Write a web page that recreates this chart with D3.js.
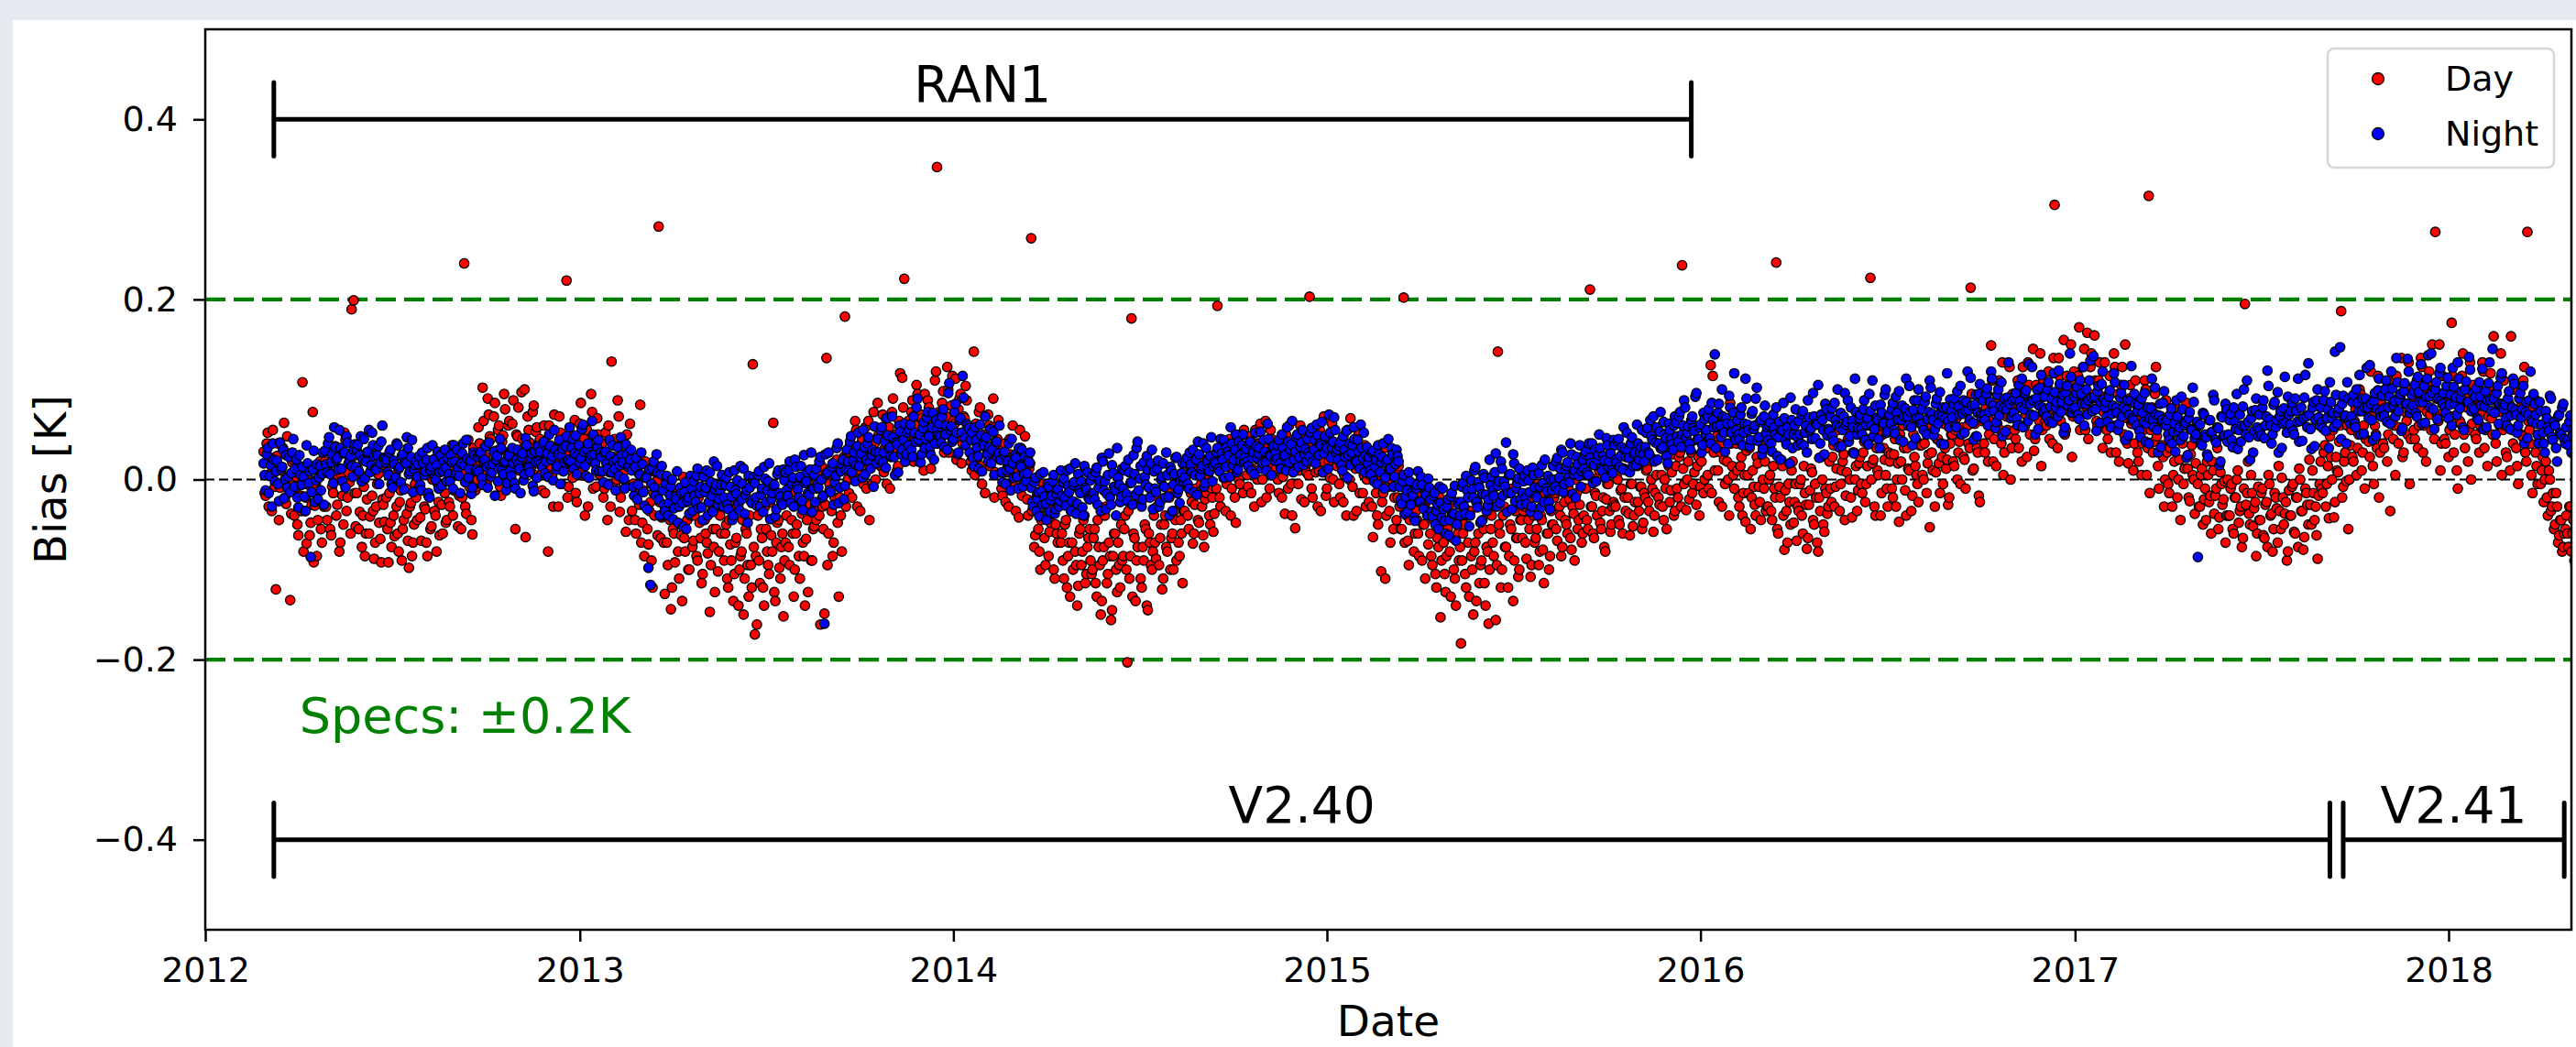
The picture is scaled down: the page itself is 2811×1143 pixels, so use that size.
<!DOCTYPE html>
<html>
<head>
<meta charset="utf-8">
<script src="https://cdn.jsdelivr.net/npm/d3@7"></script>
<style>
  body { margin: 0; background: #e5e9f0; }
  svg { display: block; font-family: "DejaVu Sans", sans-serif; }
</style>
</head>
<body>
<svg id="chart" width="2811" height="1143"></svg>
<script>
// ---- data: bias in mK, one value every 2 days ----
// "Even" arrays start 2012-02-27, "Odd" arrays start one day later
var startEven = "2012-02-27";
var startOdd = "2012-02-28";
var stepDays = 2;

var dayBiasEven = [
  31,-18,52,6,-35,24,-122,40,-9,14,63,-27,2,-134,19,
  -40,3,-62,-18,108,-35,-71,-6,-48,75,-29,-85,-12,-55,10,
  20,-45,8,-62,-15,37,-28,-80,5,-50,44,-20,-3,189,199,
  -52,12,-36,-75,-8,-60,25,-41,-18,-88,-30,6,-66,-22,-47,
  -20,-92,-48,3,-63,-30,-80,-12,-55,19,-38,-98,-26,-70,-5,
  -45,-10,-68,8,-33,-85,-19,-52,22,-40,-4,-62,-28,15,-48,
  14,-30,38,-12,5,-52,26,-20,240,-38,44,2,-61,19,-8,
  58,20,102,36,-5,72,45,12,85,28,60,-18,49,78,30,
  65,22,88,-55,48,10,97,35,-64,70,41,15,82,53,28,
  45,-12,60,25,-80,38,5,72,18,-30,52,10,33,221,-8,
  // 2013
  48,2,66,-25,30,85,12,-40,55,20,95,-10,40,68,6,
  30,-20,52,-45,8,131,25,-8,88,-36,40,0,-58,20,62,
  -35,12,-60,-10,83,-48,-85,5,-72,-25,-120,-40,-2,281,-65,
  -40,-127,-70,-15,-144,-55,-92,-30,-110,-62,3,-80,-45,-100,-20,
  -68,-25,-90,-48,-115,-10,-60,-82,-147,-35,-75,-55,-102,-40,-8,
  -90,-50,-120,-72,-28,-105,-65,-140,-85,-45,-110,-60,-130,-95,128,
  -172,-161,-90,-55,-120,-30,-80,-105,-62,63,-135,-48,-98,-75,-152,
  -70,-20,-95,-45,-130,-60,-8,-110,-38,-85,-66,-125,-28,-90,-52,
  -45,10,-161,-30,-149,135,-60,5,-85,-20,22,-130,-40,15,181,
  30,-15,48,5,65,-30,22,40,-5,58,12,-45,35,75,0,
  85,20,55,8,68,40,-10,75,30,50,15,118,113,223,45,
  65,30,88,45,105,20,72,55,95,38,80,12,62,110,347,
  // 2014
  75,40,98,55,125,30,82,65,112,48,90,18,70,104,58,
  45,10,142,62,25,80,-5,50,35,72,15,58,-20,40,66,
  22,-18,40,8,-30,28,60,-8,15,-42,35,0,48,-22,12,
  268,-30,-62,-15,-80,-45,-5,-95,-38,-58,-20,-100,-50,-70,-28,
  -60,-110,-45,-85,-130,-70,-25,-95,-118,-55,-80,-40,-105,-65,-90,
  -100,-55,-130,-75,-150,-90,-40,-115,-70,-156,-85,-60,-125,-95,-50,
  -85,-40,-203,-110,179,-60,-135,-75,-20,-120,-90,-55,-145,-70,-100,
  -40,-88,-20,-65,-122,-50,-75,-10,-100,-60,-35,-90,-70,-45,-115,
  -35,5,-55,-15,-71,-28,12,-48,-5,-62,-22,20,-40,-10,-58,
  15,193,-20,30,2,-35,22,45,-10,10,-48,35,-5,25,55,
  30,-8,48,12,-30,40,22,62,0,35,-20,18,55,5,28,
  25,-15,42,3,-38,30,60,-5,18,-54,38,10,-22,50,15,
  // 2015
  30,203,-10,45,8,-30,55,20,70,-18,36,2,62,-25,25,
  22,-20,45,5,-40,32,68,-8,15,-35,50,12,-15,38,0,
  -25,15,-64,8,-40,30,-102,-15,-110,20,-35,0,-55,10,-20,
  -30,-55,202,-20,-68,-45,-8,-80,-35,-60,-15,-90,-50,-25,-72,
  -60,-95,-40,-120,-75,-153,-50,-105,-85,-30,-130,-65,-110,-45,-90,
  -182,-60,-105,-40,-130,-85,-150,-70,-25,-115,-90,-55,-140,-80,-100,
  -40,-85,-156,142,-60,-100,-30,-75,-120,-50,-10,-90,-65,-108,-45,
  -65,-30,-88,-45,-108,-20,-70,-55,-95,-40,-78,-15,-60,-100,-35,
  -50,-15,-68,-30,-85,-5,-45,-60,-22,-78,-38,0,-55,-28,-70,
  -40,-10,-55,211,-30,-65,-18,2,-48,-35,-75,-22,-5,-58,-30,
  -28,5,-45,-12,-60,-20,10,-38,-5,-52,-25,15,-35,-8,-48,
  -20,12,-35,0,-58,-15,22,-28,5,-45,-10,30,-25,8,-40,
  // 2016
  15,-20,30,238,-5,-34,20,40,-15,8,-28,25,-8,45,0,
  35,-10,127,115,10,48,-25,30,62,-5,20,-40,40,5,75,
  10,-30,25,-15,-47,5,35,-20,-8,-40,18,-25,40,-10,-35,
  -30,5,-45,-10,241,-60,-20,15,-78,-35,-5,-50,20,-25,-68,
  -35,0,-60,-15,-77,-28,12,-45,-5,-70,-20,25,-50,-10,-38,
  20,-25,38,-8,55,-35,10,28,-18,45,0,-42,30,15,-12,
  25,-15,42,-5,60,224,18,-30,35,5,-40,50,22,-10,30,
  28,-20,45,0,-47,20,60,-12,35,10,-35,50,15,-5,38,
  38,0,55,18,-53,30,70,8,45,-15,25,62,12,-28,40,
  50,15,68,30,-5,58,22,85,40,213,10,62,35,-18,75,
  70,30,95,50,149,20,80,62,110,40,5,88,55,125,35,
  85,45,110,60,20,95,72,130,50,88,32,105,68,140,55,
  95,60,120,75,40,305,88,135,65,100,50,115,82,150,70,
  // 2017
  105,70,169,85,125,55,163,95,140,78,110,60,130,92,75,
  88,45,115,60,140,30,95,72,125,50,80,18,105,65,40,
  62,20,85,40,110,5,315,55,30,95,48,-10,70,25,0,
  30,-15,50,5,80,-20,22,45,-5,65,12,-24,38,0,18,
  -5,-30,12,-22,-45,5,-18,20,-38,-10,-55,8,-28,-2,-40,
  -40,-10,-55,-20,0,-48,-30,-65,195,-15,-38,5,-52,-25,-60,
  -45,-15,-62,-28,-75,-5,-38,-55,-20,-70,-35,2,-50,-25,-80,
  -40,-8,-58,-20,-75,0,-35,-64,-15,-50,-28,10,-45,-62,-18,
  20,-15,38,-5,-43,25,55,-25,10,42,187,-8,30,60,0,
  55,20,78,35,100,10,60,45,88,25,70,-5,50,115,30,
  70,35,95,50,-35,80,60,115,40,90,25,105,65,130,45,
  85,45,110,60,135,30,95,75,120,55,100,275,70,150,40,
  // 2018
  75,40,100,55,174,30,85,-10,65,115,50,90,20,130,62,
  80,45,105,60,130,35,90,70,118,50,95,20,75,140,55,
  60,25,85,159,40,100,15,70,50,110,30,275,55,5,80,
  30,-5,45,10,-25,20,-40,0,-30,-55,-15,-70,-45,-80,-60,
  -40,-75,-30,-60,-90,-45,-65,-20,-85,-55,-70,-35,-95,-50,-60
];

var dayBiasOdd = [
  -15,40,-30,18,55,-8,26,-45,10,35,-20,48,0,-38,22,
  -10,-50,15,-35,-80,-20,5,-62,-28,-92,-5,-45,20,-70,-30,
  -30,15,-55,-8,30,-40,2,-70,-18,52,-35,8,-60,25,-15,
  -15,-55,5,-40,-85,-22,-60,10,-35,-70,-5,-48,-92,-28,15,
  -55,-15,-75,-40,5,-60,-25,-90,-45,-10,-68,-30,-85,-50,-20,
  -10,-42,12,-30,-70,-18,-55,0,-35,-80,-25,10,-60,-15,-45,
  -25,15,-40,5,30,-18,-55,10,-30,22,-8,-45,35,-12,0,
  40,8,65,25,90,48,15,70,32,55,-8,42,95,20,60,
  30,62,15,50,80,25,45,100,18,55,35,75,5,58,40,
  5,40,-15,28,60,12,-30,35,20,70,-5,45,15,-20,30,
  // 2013
  10,40,-15,28,62,5,45,18,-30,35,75,22,-8,50,30,
  40,-10,25,60,-30,12,45,0,70,-20,28,10,50,-45,18,
  -5,-45,10,-28,-70,-12,20,-55,-35,-90,-15,8,-62,-25,-42,
  -70,-30,-95,-45,-120,-60,-15,-80,-50,-135,-65,-25,-100,-40,-75,
  -40,-85,-20,-65,-105,-45,-70,-10,-95,-55,-125,-35,-80,-60,-30,
  -60,-110,-45,-90,-135,-70,-30,-100,-80,-150,-55,-95,-40,-120,-75,
  -85,-40,-115,-65,-140,-55,-95,-25,-80,-125,-70,-45,-110,-60,-90,
  -40,-75,-15,-60,-100,-50,-85,-25,-70,-140,-45,-5,-90,-55,-30,
  -10,-40,15,-55,-28,-95,-5,-35,-70,8,-48,-20,-80,25,-30,
  0,38,-20,25,55,10,-35,45,18,-10,65,28,-5,40,20,
  50,15,72,35,-5,58,25,90,40,10,65,30,80,20,48,
  35,75,20,60,95,42,68,10,55,88,30,70,48,120,40,
  // 2014
  45,85,30,70,100,50,115,62,22,78,95,40,68,88,55,
  20,55,5,40,75,15,48,-15,35,60,25,90,8,45,30,
  -10,30,-25,15,45,-5,20,-35,10,55,-18,25,0,-40,18,
  -35,-75,-20,-55,-100,-40,-65,-10,-85,-48,-30,-110,-60,-25,-70,
  -90,-50,-120,-70,-35,-100,-80,-140,-60,-95,-45,-115,-75,-55,-105,
  -65,-115,-45,-95,-135,-75,-30,-105,-85,-145,-60,-100,-70,-120,-90,
  -55,-100,-35,-85,-130,-65,-90,-20,-110,-75,-50,-140,-60,-95,-80,
  -70,-30,-95,-50,-110,-40,-80,-20,-65,-100,-45,-5,-85,-60,-35,
  -5,-40,15,-25,-60,-10,-45,25,-30,-75,-15,5,-50,-20,-38,
  -10,25,-30,15,42,-5,30,-40,10,-20,35,0,50,-15,20,
  5,35,-15,25,55,0,40,-25,20,65,10,-10,45,30,12,
  0,35,-20,20,50,-10,28,-40,15,45,-5,60,25,-25,8,
  // 2015
  5,40,-20,25,58,10,-35,30,48,-10,20,65,0,35,15,
  -5,30,-25,18,55,0,25,-40,12,45,-15,35,5,-30,20,
  5,-30,20,-15,-50,0,-25,35,-40,-8,-70,10,-20,-45,15,
  -55,-20,-70,-40,-95,-30,-5,-60,-45,-85,-25,-50,-110,-35,-15,
  -85,-45,-105,-65,-20,-90,-70,-125,-55,-80,-40,-100,-140,-60,-75,
  -90,-50,-120,-70,-35,-100,-80,-135,-60,-95,-45,-115,-75,-160,-55,
  -70,-30,-95,-50,-120,-40,-75,-15,-85,-55,-135,-35,-65,-100,-45,
  -35,-70,-15,-55,-95,-40,-65,-5,-80,-45,-115,-25,-60,-85,-50,
  -20,-55,0,-40,-75,-25,-50,-10,-65,-30,-90,-15,-45,5,-60,
  -10,-45,5,-30,-60,-15,-40,10,-55,-20,-80,-5,-35,-50,-25,
  -30,0,-50,-10,12,-35,-20,-62,-5,-40,20,-25,-8,-55,-15,
  10,-25,25,-10,-40,5,-20,35,-30,0,-55,15,-12,28,-35,
  // 2016
  -10,25,-30,12,45,0,-22,30,-5,55,15,-40,20,-15,35,
  5,45,-15,30,70,10,38,-30,22,55,0,85,15,-10,40,
  -20,15,-40,5,32,-15,-55,10,-28,25,-8,-45,0,20,-30,
  0,-35,15,-20,-55,-8,22,-40,-12,-70,-25,10,-48,-5,-30,
  -5,-40,15,-28,-65,-12,8,-50,-20,-80,-35,0,-58,-15,-30,
  -10,25,-30,12,40,-5,20,-45,8,55,-20,30,0,-35,18,
  -5,30,-25,15,45,0,22,-40,10,60,-15,35,5,-30,20,
  -10,28,-30,18,50,0,35,-40,12,62,-18,25,5,-25,40,
  5,40,-15,28,60,10,-30,45,18,75,-5,35,22,-20,50,
  20,55,0,42,80,25,-10,60,35,95,12,48,30,-25,65,
  40,80,20,65,110,45,15,90,55,130,30,70,50,0,95,
  55,95,35,80,125,60,25,105,70,145,45,88,65,15,110,
  65,105,45,90,135,70,35,115,80,155,55,100,75,25,120,
  // 2017
  75,115,55,100,145,80,45,125,90,160,65,110,85,35,130,
  55,95,30,80,125,60,20,105,68,150,40,90,62,10,110,
  30,70,5,55,100,35,-15,80,42,125,15,65,38,-30,88,
  -5,35,-30,20,60,0,-45,40,12,85,-20,28,5,-38,50,
  -30,5,-50,-10,20,-25,-60,10,-18,35,-42,-5,-22,-70,0,
  -40,-5,-60,-20,10,-35,-75,-10,-28,20,-50,-15,-32,-85,-8,
  -45,-10,-65,-25,5,-40,-80,-15,-32,15,-55,-20,-38,-90,-12,
  -40,-5,-60,-20,12,-35,-78,-10,-28,22,-50,-15,-30,-88,-5,
  -10,30,-30,15,48,0,-42,25,8,60,-20,20,-2,-55,38,
  25,65,5,50,95,30,-10,75,42,120,15,60,35,-20,85,
  40,80,20,65,110,45,5,90,58,135,30,75,50,-5,100,
  55,95,35,80,125,60,20,105,72,150,45,90,65,10,115,
  // 2018
  45,85,25,70,115,50,10,95,62,140,35,80,55,0,105,
  50,90,30,75,120,55,15,100,68,159,40,85,60,5,110,
  30,70,10,55,100,35,-5,80,48,125,20,65,40,-15,90,
  15,40,-5,25,0,-20,10,-35,-15,-50,-30,-62,-45,-75,-55,
  -60,-30,-80,-45,-95,-40,-70,-25,-85,-55,-100,-35,-65,-50,-75
];

var nightBiasEven = [
  18,-12,35,4,-30,22,9,-5,41,14,-21,27,3,-14,30,
  -8,22,-31,5,14,-19,38,-4,-86,11,-25,17,2,-12,30,
  32,8,47,19,-4,36,24,55,12,29,-9,41,21,15,33,
  14,39,27,-2,45,20,31,8,52,26,11,37,18,60,23,
  22,5,33,-9,17,40,12,-3,28,19,47,6,25,-14,16,
  3,26,-12,18,9,35,-20,14,22,0,31,8,-7,20,13,
  24,-2,19,38,7,13,-15,29,16,44,2,21,-9,27,11,
  9,30,-6,22,14,41,3,17,-18,26,12,35,6,20,-4,
  27,4,18,-10,33,12,25,-1,46,15,8,29,-13,19,37,
  31,14,42,20,3,37,26,55,11,28,-5,34,19,48,22,
  // 2013
  20,45,29,6,38,24,61,15,33,2,27,50,18,36,9,
  25,-3,31,12,44,8,20,-12,36,16,27,1,39,14,22,
  10,-18,24,-6,5,17,-29,2,-98,-117,12,-9,28,-22,6,
  -12,-35,4,-26,-8,-44,-19,9,-30,-15,-52,-3,-24,-38,-10,
  -2,-25,12,-15,-31,3,-9,-40,8,-18,20,-6,-28,-12,5,
  -20,2,-33,-8,-45,10,-16,-27,15,-5,-38,-12,4,-24,-1,
  -4,-29,9,-17,-36,1,-12,18,-22,-7,-41,6,-15,-26,11,
  8,-18,20,-5,-30,14,-11,3,-24,27,-2,-15,11,-36,5,
  12,-9,25,-20,-160,6,30,-14,18,-3,35,-26,9,22,-7,
  33,10,48,21,-2,37,15,29,55,6,40,19,27,-8,31,
  45,22,58,30,13,49,36,70,25,41,8,53,33,62,28,
  38,61,25,52,80,44,19,57,35,69,48,27,74,40,56,
  // 2014
  62,41,78,50,33,107,59,45,84,28,66,52,91,38,60,
  30,52,15,44,26,61,9,38,47,20,56,33,5,42,29,
  22,-3,31,10,40,-12,18,27,3,35,14,-8,25,7,19,
  -9,-30,2,-22,-41,-13,8,-27,-5,-36,-18,5,-33,-11,-24,
  -18,1,-29,-7,12,-24,-3,-38,6,-15,-31,15,-11,-20,-1,
  4,-22,13,-9,-35,20,-2,-16,29,-28,7,-12,35,-6,-19,
  -10,15,-24,8,-3,27,-17,42,1,-30,19,-6,11,-20,33,
  9,-14,21,-25,3,-8,30,-19,14,-35,6,25,-11,-2,18,
  2,24,-10,17,33,5,-17,28,12,40,-4,20,9,47,15,
  18,35,9,29,44,14,31,3,40,22,50,11,27,38,20,
  34,15,42,24,6,37,29,53,18,31,10,45,26,36,21,
  23,44,12,35,27,58,19,39,8,31,50,25,41,16,34,
  // 2015
  45,26,57,33,18,49,40,64,29,37,12,52,35,69,30,
  22,41,10,33,54,27,16,38,45,20,31,61,24,8,36,
  25,6,32,14,-5,28,19,40,2,22,11,35,-8,17,26,
  -8,-27,5,-19,-36,-2,-14,-42,-10,9,-25,-6,-33,-17,1,
  -22,-41,-15,-35,-55,-26,-10,-46,-30,-62,-19,-38,-7,-50,-28,
  -25,-4,-38,-12,-52,-1,-20,14,-31,-9,-46,6,-17,-29,22,
  3,-18,29,-7,-26,12,-2,41,-15,6,-33,18,-10,1,-22,
  -15,4,-27,-1,-36,13,-9,-20,7,-31,-4,22,-13,-25,0,
  15,-8,24,2,33,-14,11,19,-3,28,6,-20,17,38,9,
  12,31,5,24,40,16,-2,27,35,10,21,46,14,29,7,
  38,19,45,26,11,33,52,24,40,15,30,61,22,36,28,
  36,57,28,48,70,41,22,53,34,64,46,18,55,39,60,
  // 2016
  63,42,75,50,88,47,59,33,70,54,96,45,61,38,67,
  55,78,40,66,139,59,84,47,70,31,62,93,52,74,44,
  66,45,80,52,112,61,37,73,56,90,43,64,28,70,51,
  44,63,31,58,80,47,22,55,68,39,50,91,35,60,48,
  65,40,76,52,30,69,57,96,46,61,24,72,55,84,49,
  54,79,43,66,100,58,37,70,61,88,48,65,29,75,57,
  72,50,88,61,39,76,110,56,68,45,83,63,94,52,71,
  62,85,51,74,98,66,42,79,70,104,58,77,46,88,68,
  78,55,92,67,110,73,49,84,62,97,71,39,80,65,89,
  69,90,58,81,104,73,52,86,77,113,63,83,48,95,72,
  88,66,101,75,120,82,57,94,71,108,79,53,91,84,70,
  74,96,60,87,112,78,99,65,84,125,71,90,56,102,80,
  92,70,108,81,63,97,86,121,75,94,58,104,88,114,79,
  // 2017
  80,103,67,95,125,84,72,110,91,137,78,98,63,106,89,
  86,64,99,73,118,80,55,91,70,105,77,49,88,68,95,
  60,83,47,74,96,62,40,79,66,102,55,71,36,85,64,
  66,44,79,53,31,70,58,92,48,63,27,75,55,86,50,
  -86,61,38,72,47,25,66,53,88,41,57,20,69,49,78,
  50,73,36,64,95,55,42,81,60,110,47,68,30,77,58,
  72,49,88,60,121,67,40,83,58,97,70,35,79,63,92,
  61,85,50,76,112,65,43,91,70,129,56,80,37,88,69,
  80,57,98,68,35,86,74,142,62,79,45,93,71,108,65,
  70,94,58,85,116,76,51,90,80,127,66,87,48,99,75,
  93,71,110,80,62,101,87,135,76,95,57,107,84,120,79,
  82,105,70,97,128,86,63,112,92,140,78,100,67,118,88,
  // 2018
  96,74,113,83,60,103,91,130,79,98,55,109,86,122,80,
  78,101,66,92,123,81,58,107,88,145,74,96,62,113,84,
  83,60,98,71,112,77,52,90,69,104,75,46,88,66,95,
  72,50,86,61,40,76,58,93,47,64,35,70,52,80,45,
  58,38,71,49,27,63,44,81,36,55,22,60,41,68,33
];

var nightBiasOdd = [
  5,28,-15,16,40,-2,21,-24,12,33,0,-9,25,7,45,
  12,-20,27,-6,3,-35,18,9,-14,32,-1,-22,15,6,-28,
  17,40,6,28,58,22,11,35,-2,30,48,18,26,3,39,
  33,9,48,22,1,30,55,16,38,12,27,-5,42,24,19,
  8,30,-5,21,2,38,14,26,-11,18,35,9,44,11,20,
  17,-6,30,5,22,-15,11,38,2,16,-10,27,9,33,-2,
  6,27,-10,20,33,4,18,40,-3,23,12,-16,30,9,25,
  28,2,20,37,-9,16,8,31,22,-2,45,11,19,-12,26,
  10,35,-4,22,17,-15,29,6,38,13,24,-7,31,2,20,
  18,40,7,29,50,22,-1,33,15,44,26,9,37,21,58,
  // 2013
  35,12,49,27,18,56,31,4,40,23,65,28,10,44,30,
  9,30,18,-6,26,38,12,22,4,47,19,-10,28,15,33,
  -8,14,-22,6,30,-14,2,-33,11,-5,20,-18,8,-40,15,
  -28,-5,-40,-17,0,-32,-22,-48,-9,-26,-14,-55,-20,4,-35,
  -18,4,-32,-8,-45,-14,10,-25,-3,-36,-11,15,-22,-6,-30,
  -6,-28,8,-19,-40,-12,-1,-34,-22,12,-17,-48,-9,-26,3,
  -20,5,-30,-10,14,-25,-2,-44,-15,-6,-33,10,-19,-28,-1,
  -12,10,-26,2,22,-8,-20,15,-34,-4,8,-17,30,-10,-25,
  -6,20,0,-18,28,8,-12,14,-28,4,40,-9,17,-22,11,
  20,42,8,30,16,52,25,2,36,22,47,12,33,59,18,
  30,55,19,42,68,34,26,47,5,39,60,28,44,20,52,
  55,33,70,42,90,50,28,64,45,75,36,58,22,66,49,
  // 2014
  48,70,36,60,96,55,42,75,52,30,68,115,46,62,57,
  44,24,58,35,12,49,40,70,28,36,18,53,42,25,60,
  8,28,-5,20,12,45,2,24,-10,16,33,6,-2,22,30,
  -25,-3,-35,-14,6,-28,-19,-45,-8,-23,-2,-38,-16,-30,10,
  -3,-20,10,-14,-35,-6,18,-27,-12,-2,-40,-9,8,-22,-16,
  -15,8,-28,-1,24,-12,-33,5,-20,16,-8,-40,2,-25,12,
  10,-16,22,-4,-28,6,35,-12,15,-22,3,26,-9,18,-33,
  -10,12,-30,0,18,-20,5,-40,10,-6,24,-15,-26,7,-2,
  18,-5,30,8,-14,22,42,4,15,-8,35,12,26,-2,20,
  30,12,45,22,2,36,27,58,16,33,8,42,20,50,25,
  20,40,10,30,52,24,35,12,44,19,62,27,5,37,30,
  38,18,50,26,10,42,33,65,22,47,14,36,55,28,20,
  // 2015
  30,52,20,44,61,27,38,8,48,35,72,24,42,55,33,
  37,16,48,25,2,40,30,58,20,44,12,35,52,27,18,
  10,30,-2,22,38,8,25,-10,18,45,12,28,3,33,20,
  -22,-2,-38,-12,8,-28,-18,-46,-6,-24,3,-31,-15,-40,-9,
  -36,-18,-50,-28,-8,-42,-33,-60,-22,-45,-15,-38,-68,-25,-40,
  -8,-30,4,-20,-40,-11,10,-25,-3,-48,-16,2,-35,-22,-6,
  -12,8,-30,-2,20,-18,-8,-36,5,-15,28,-24,-4,12,-28,
  -2,-20,10,-14,-30,5,-18,-40,-8,16,-25,-10,4,-33,-12,
  0,20,-12,12,30,-5,15,2,40,-16,10,25,4,-8,22,
  28,8,40,18,-4,33,22,50,12,26,2,38,20,10,44,
  22,42,14,36,58,25,32,8,47,28,16,40,30,55,20,
  52,30,66,44,20,58,40,75,36,50,26,62,45,33,70,
  // 2016
  48,70,36,60,80,52,40,66,57,92,44,58,30,74,50,
  70,46,85,58,35,74,60,100,52,68,40,80,62,118,55,
  50,72,38,62,90,55,44,76,60,102,47,66,34,82,58,
  60,40,72,50,26,64,55,85,44,58,18,66,50,78,38,
  50,72,38,60,88,55,45,70,62,105,40,66,28,78,56,
  70,48,85,60,36,74,55,96,64,42,80,58,112,50,68,
  56,78,44,68,95,60,48,82,66,35,74,62,100,54,72,
  78,55,92,66,44,82,70,112,60,75,38,88,68,100,62,
  62,86,50,75,102,66,56,90,72,40,80,68,118,58,76,
  84,60,98,72,50,88,76,120,66,82,44,94,74,106,68,
  72,95,60,86,112,76,64,100,82,48,90,78,130,68,88,
  90,68,105,80,58,96,84,128,72,88,50,100,82,116,75,
  78,100,64,90,118,80,70,106,86,52,96,82,140,74,92,
  // 2017
  96,72,110,84,60,100,88,132,76,92,54,104,86,120,80,
  70,92,58,82,108,74,62,96,80,44,88,72,126,66,84,
  76,54,90,64,42,80,68,112,58,72,30,84,66,98,60,
  50,72,40,62,88,54,44,78,60,24,68,56,102,46,64,
  60,40,74,50,28,66,52,94,44,58,16,70,48,84,42,
  66,44,80,56,34,72,60,100,50,64,22,76,54,90,48,
  56,80,46,70,104,60,50,86,66,30,76,62,114,52,72,
  76,54,90,64,42,80,68,116,58,72,34,86,66,100,60,
  64,88,54,78,108,68,58,94,74,147,84,70,40,90,62,
  86,62,100,76,50,90,80,124,68,84,44,96,78,112,70,
  78,100,64,92,120,82,70,108,88,54,98,84,134,74,94,
  98,74,114,86,62,104,92,138,80,96,56,108,90,124,84,
  // 2018
  80,104,68,94,124,84,72,112,90,58,100,86,136,76,96,
  92,68,108,82,56,98,88,130,76,90,50,104,84,118,78,
  68,90,56,80,106,72,60,96,78,40,86,72,120,64,84,
  62,40,76,52,30,68,54,90,44,60,20,72,50,84,40,
  44,64,30,56,76,40,50,24,62,46,70,34,58,42,66
];

var seriesNames = ["Day", "Night"];
var seriesColors = ["#ff0000", "#0000ff"];

var xDomain = ["2012-01-01", "2018-05-01"];
var yearTicks = [2012, 2013, 2014, 2015, 2016, 2017, 2018];
var biasTicks = [-0.4, -0.2, 0.0, 0.2, 0.4];
var specLimits = [-0.2, 0.2];

var periodLabels = ["RAN1", "V2.40", "V2.41"];
var periodStart = ["2012-03-08", "2012-03-08", "2017-09-20"];
var periodEnd = ["2015-12-23", "2017-09-07", "2018-04-24"];
var periodLevel = [0.4, -0.4, -0.4];

// ---- layout ----
var W = 2811, H = 1143;
var plot = {left: 224, top: 32, right: 2806, bottom: 1015};
var parseDate = d3.utcParse("%Y-%m-%d");

var svg = d3.select("#chart");

svg.append("rect")
  .attr("x", 14).attr("y", 22)
  .attr("width", W - 14).attr("height", H - 22)
  .attr("fill", "#ffffff");

var x = d3.scaleUtc()
  .domain(xDomain.map(parseDate))
  .range([plot.left, plot.right]);

var y = d3.scaleLinear()
  .domain([-0.5, 0.5])
  .range([plot.bottom, plot.top]);

svg.append("clipPath").attr("id", "plotclip")
  .append("rect")
  .attr("x", plot.left).attr("y", plot.top)
  .attr("width", plot.right - plot.left).attr("height", plot.bottom - plot.top);

var inner = svg.append("g").attr("clip-path", "url(#plotclip)");

// zero reference
inner.append("line")
  .attr("x1", plot.left).attr("x2", plot.right)
  .attr("y1", y(0)).attr("y2", y(0))
  .attr("stroke", "#000").attr("stroke-width", 1.8)
  .attr("stroke-dasharray", "10,5");

// spec limits
inner.selectAll(".spec")
  .data(specLimits)
  .enter().append("line")
    .attr("class", "spec")
    .attr("x1", plot.left).attr("x2", plot.right)
    .attr("y1", function(d) { return y(d); })
    .attr("y2", function(d) { return y(d); })
    .attr("stroke", "#008000").attr("stroke-width", 4.2)
    .attr("stroke-dasharray", "22,9");

// points
function toPoints(values, start) {
  var t0 = parseDate(start);
  return values.map(function(v, i) {
    return {date: d3.utcDay.offset(t0, i * stepDays), bias: v / 1000};
  });
}
var series = [
  toPoints(dayBiasEven, startEven).concat(toPoints(dayBiasOdd, startOdd)),
  toPoints(nightBiasEven, startEven).concat(toPoints(nightBiasOdd, startOdd))
];

series.forEach(function(pts, s) {
  pts.sort(function(a, b) { return a.date - b.date; });
  inner.append("g")
    .selectAll("circle")
    .data(pts)
    .enter().append("circle")
      .attr("cx", function(d) { return x(d.date); })
      .attr("cy", function(d) { return y(d.bias); })
      .attr("r", 5.2)
      .attr("fill", seriesColors[s])
      .attr("stroke", "#000")
      .attr("stroke-width", 1.3);
});

// processing periods
var periods = periodLabels.map(function(l, i) {
  return {label: l, from: parseDate(periodStart[i]), to: parseDate(periodEnd[i]), level: periodLevel[i]};
});

var pg = svg.append("g").selectAll("g")
  .data(periods)
  .enter().append("g");

pg.append("line")
  .attr("x1", function(d) { return x(d.from); })
  .attr("x2", function(d) { return x(d.to); })
  .attr("y1", function(d) { return y(d.level); })
  .attr("y2", function(d) { return y(d.level); })
  .attr("stroke", "#000").attr("stroke-width", 5);

["from", "to"].forEach(function(k) {
  pg.append("line")
    .attr("x1", function(d) { return x(d[k]); })
    .attr("x2", function(d) { return x(d[k]); })
    .attr("y1", function(d) { return y(d.level + 0.041); })
    .attr("y2", function(d) { return y(d.level - 0.041); })
    .attr("stroke", "#000").attr("stroke-width", 5)
    .attr("stroke-linecap", "round");
});

pg.append("text")
  .attr("x", function(d) { return (x(d.from) + x(d.to)) / 2; })
  .attr("y", function(d) { return y(d.level) - 19; })
  .attr("text-anchor", "middle")
  .attr("font-size", 55)
  .text(function(d) { return d.label; });

svg.append("text")
  .attr("x", x(parseDate("2012-04-02")))
  .attr("y", y(-0.281))
  .attr("font-size", 54)
  .attr("fill", "#008000")
  .text("Specs: \u00b10.2K");

// axes
var xAxis = svg.append("g")
  .attr("transform", "translate(0," + plot.bottom + ")")
  .call(d3.axisBottom(x)
    .tickValues(yearTicks.map(function(yr) { return new Date(Date.UTC(yr, 0, 1)); }))
    .tickFormat(d3.utcFormat("%Y"))
    .tickSize(13).tickPadding(17));

var yAxis = svg.append("g")
  .attr("transform", "translate(" + plot.left + ",0)")
  .call(d3.axisLeft(y)
    .tickValues(biasTicks)
    .tickFormat(d3.format(".1f"))
    .tickSize(13).tickPadding(17));

[xAxis, yAxis].forEach(function(a) {
  a.select(".domain").remove();
  a.selectAll(".tick line").attr("stroke", "#000").attr("stroke-width", 2.5);
  a.selectAll(".tick text")
    .attr("font-family", "DejaVu Sans")
    .attr("font-size", 38)
    .attr("fill", "#000");
});

svg.append("rect")
  .attr("x", plot.left).attr("y", plot.top)
  .attr("width", plot.right - plot.left).attr("height", plot.bottom - plot.top)
  .attr("fill", "none").attr("stroke", "#000").attr("stroke-width", 2.5);

svg.append("text")
  .attr("transform", "translate(72," + ((plot.top + plot.bottom) / 2) + ") rotate(-90)")
  .attr("text-anchor", "middle")
  .attr("font-size", 48)
  .text("Bias [K]");

svg.append("text")
  .attr("x", (plot.left + plot.right) / 2)
  .attr("y", 1131)
  .attr("text-anchor", "middle")
  .attr("font-size", 47)
  .text("Date");

// legend
var legend = svg.append("g");
legend.append("rect")
  .attr("x", 2540).attr("y", 53)
  .attr("width", 247).attr("height", 130)
  .attr("rx", 7)
  .attr("fill", "#fff").attr("fill-opacity", 0.8)
  .attr("stroke", "#d6d6d6").attr("stroke-width", 2.5);

var li = legend.selectAll(".li")
  .data(seriesNames)
  .enter().append("g")
    .attr("class", "li")
    .attr("transform", function(d, i) { return "translate(2595," + (86 + i * 60) + ")"; });

li.append("circle")
  .attr("r", 6.5)
  .attr("fill", function(d, i) { return seriesColors[i]; })
  .attr("stroke", "#000").attr("stroke-width", 1.3);

li.append("text")
  .attr("x", 73)
  .attr("y", 13)
  .attr("font-size", 38)
  .text(function(d) { return d; });
</script>
</body>
</html>
